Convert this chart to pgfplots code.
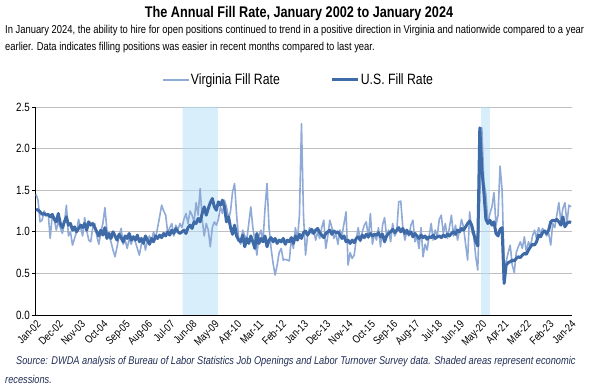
\documentclass[border=0pt]{standalone}
\usepackage{fontspec}
\setmainfont{Liberation Sans}[FakeStretch=0.82]
\usepackage{pgfplots}
\pgfplotsset{compat=1.18}
\usepackage{pgfplotstable}
\definecolor{usblue}{RGB}{62,106,167}
\definecolor{vablue}{RGB}{143,170,214}
\definecolor{shadeblue}{RGB}{179,221,247}
\definecolor{gridgray}{RGB}{191,191,191}
\definecolor{srcnavy}{RGB}{31,45,85}

% monthly values, Jan 2002 ... Jan 2024 (one line per year)
\pgfplotstableread[row sep=\\]{
us va\\
1.27 1.45\\ 1.26 1.38\\ 1.24 1.12\\ 1.21 1.14\\ 1.22 1.25\\ 1.20 1.20\\ 1.21 1.22\\ 1.18 0.92\\ 1.21 1.20\\ 1.15 1.15\\ 1.12 1.02\\ 1.22 1.12\\
1.10 1.05\\ 1.05 0.98\\ 1.12 1.10\\ 1.18 1.32\\ 1.08 0.95\\ 1.10 1.00\\ 1.02 0.84\\ 1.06 0.92\\ 1.00 1.00\\ 1.04 1.15\\ 1.08 1.05\\ 1.05 0.95\\
1.10 1.17\\ 1.02 1.02\\ 1.12 0.90\\ 1.08 0.88\\ 1.10 1.05\\ 1.05 1.10\\ 1.00 0.95\\ 0.95 0.85\\ 1.02 1.00\\ 0.96 1.10\\ 1.05 1.29\\ 0.92 1.02\\
0.98 0.95\\ 0.92 0.88\\ 1.00 0.78\\ 0.95 0.70\\ 0.90 0.82\\ 0.97 0.95\\ 0.93 1.04\\ 0.88 0.85\\ 0.95 0.90\\ 0.92 0.80\\ 0.98 0.92\\ 0.90 0.85\\
0.94 0.95\\ 0.90 0.88\\ 0.96 0.80\\ 0.88 0.72\\ 0.92 0.85\\ 0.86 0.92\\ 0.95 0.78\\ 0.90 0.90\\ 0.85 0.95\\ 0.92 0.88\\ 0.88 1.00\\ 0.95 0.92\\
0.92 1.05\\ 0.96 1.18\\ 0.93 1.32\\ 0.98 1.25\\ 0.95 1.20\\ 1.00 0.98\\ 0.96 1.05\\ 1.02 1.10\\ 0.98 0.95\\ 1.04 1.08\\ 1.00 1.02\\ 0.98 1.10\\
1.00 1.05\\ 1.02 1.15\\ 0.98 1.22\\ 1.05 1.10\\ 1.08 1.25\\ 1.04 1.20\\ 1.12 1.12\\ 1.10 1.35\\ 1.16 1.20\\ 1.12 1.52\\ 1.22 1.15\\ 1.30 0.95\\
1.20 1.10\\ 1.28 1.02\\ 1.35 0.82\\ 1.40 1.05\\ 1.30 1.12\\ 1.26 1.08\\ 1.36 1.15\\ 1.32 1.30\\ 1.38 1.22\\ 1.30 1.38\\ 1.12 1.30\\ 1.18 1.15\\
1.05 1.25\\ 0.97 1.48\\ 1.08 1.58\\ 0.95 1.20\\ 0.90 0.92\\ 0.88 0.85\\ 0.96 1.02\\ 0.82 0.95\\ 0.92 0.90\\ 0.86 1.10\\ 0.95 1.30\\ 0.88 1.05\\
0.80 0.90\\ 0.98 0.72\\ 0.86 0.95\\ 0.92 1.02\\ 0.88 0.88\\ 0.95 1.28\\ 0.82 1.58\\ 0.90 1.05\\ 0.93 0.80\\ 0.88 0.62\\ 0.92 0.48\\ 0.86 0.60\\
0.90 0.75\\ 0.88 0.80\\ 0.92 0.66\\ 0.85 0.67\\ 0.90 0.66\\ 0.88 0.65\\ 0.93 0.92\\ 0.86 0.80\\ 0.95 1.05\\ 0.90 0.90\\ 0.97 1.20\\ 0.92 2.30\\
0.99 1.20\\ 1.01 0.72\\ 0.96 0.95\\ 1.00 1.05\\ 1.03 0.98\\ 0.98 1.02\\ 1.02 0.90\\ 1.04 1.00\\ 0.99 0.92\\ 0.96 1.05\\ 0.93 1.14\\ 0.98 0.80\\
1.00 0.95\\ 1.02 1.14\\ 0.97 1.05\\ 1.01 0.92\\ 0.99 0.98\\ 1.00 0.85\\ 0.96 1.02\\ 0.92 0.96\\ 0.95 1.10\\ 0.88 1.24\\ 0.90 0.60\\ 0.86 0.75\\
0.90 0.68\\ 0.87 0.72\\ 0.92 0.90\\ 0.94 1.05\\ 0.90 0.88\\ 0.96 1.00\\ 0.93 1.08\\ 0.97 1.12\\ 0.94 0.92\\ 0.98 1.22\\ 0.95 0.85\\ 0.97 0.98\\
0.96 0.90\\ 0.99 1.05\\ 0.94 0.82\\ 0.97 1.08\\ 0.88 1.17\\ 0.95 0.95\\ 0.98 1.02\\ 1.00 0.88\\ 1.03 1.10\\ 0.99 0.95\\ 1.02 1.00\\ 1.05 1.36\\
1.00 1.37\\ 1.04 1.05\\ 0.98 0.90\\ 1.02 1.00\\ 0.97 0.95\\ 1.00 1.08\\ 0.94 1.14\\ 0.98 0.88\\ 0.95 0.95\\ 0.92 0.80\\ 0.96 1.05\\ 0.93 0.70\\
0.95 0.85\\ 0.91 0.78\\ 0.94 0.95\\ 0.93 1.10\\ 0.96 0.90\\ 0.92 1.02\\ 0.94 0.95\\ 0.95 1.15\\ 0.93 1.20\\ 0.96 0.98\\ 0.94 1.10\\ 0.97 0.92\\
0.95 1.05\\ 0.98 1.20\\ 1.00 0.95\\ 0.97 1.08\\ 1.02 0.90\\ 1.00 1.02\\ 1.04 1.15\\ 1.02 1.05\\ 1.06 0.85\\ 1.10 0.66\\ 1.13 1.24\\ 1.08 1.00\\
0.98 0.95\\ 0.88 0.70\\ 0.83 0.54\\ 2.25 1.40\\ 1.75 2.25\\ 1.48 1.60\\ 1.15 1.45\\ 1.10 1.10\\ 1.14 1.22\\ 1.08 1.30\\ 1.12 1.47\\ 0.98 1.08\\
0.95 1.20\\ 1.03 1.79\\ 1.05 1.50\\ 0.38 0.62\\ 0.60 0.64\\ 0.63 0.75\\ 0.64 0.84\\ 0.66 0.60\\ 0.65 0.51\\ 0.68 0.75\\ 0.70 0.82\\ 0.69 0.88\\
0.72 0.80\\ 0.74 0.94\\ 0.73 0.75\\ 0.78 0.88\\ 0.82 0.82\\ 0.85 0.95\\ 0.84 1.02\\ 0.88 0.92\\ 0.96 1.05\\ 0.94 0.98\\ 0.99 1.04\\ 1.01 1.00\\
0.98 0.95\\ 1.02 0.98\\ 1.12 0.84\\ 1.14 1.10\\ 1.13 1.05\\ 1.15 1.20\\ 1.12 1.35\\ 1.08 1.12\\ 1.18 1.28\\ 1.06 1.35\\ 1.10 1.10\\ 1.12 1.32\\
1.11 1.30\\
}\fillrates

\begin{document}
\begin{tikzpicture}
\useasboundingbox (0,0) rectangle (597bp,387bp);
\node[font=\bfseries\fontsize{15.5}{17}\selectfont, anchor=center, inner sep=0] at (299bp,373bp) {The Annual Fill Rate, January 2002 to January 2024};
\node[anchor=west, font=\fontsize{11.5}{13}\selectfont, inner sep=0] at (5bp,356bp) {In January 2024, the ability to hire for open positions continued to trend in a positive direction in Virginia and nationwide compared to a year};
\node[anchor=west, font=\fontsize{11.5}{13}\selectfont, inner sep=0] at (5bp,339bp) {earlier. Data indicates filling positions was easier in recent months compared to last year.};
\begin{axis}[
  at={(35bp,72bp)}, anchor=south west,
  width=537bp, height=208bp, scale only axis,
  xmin=-0.5, xmax=264.5, ymin=0, ymax=2.5,
  axis x line*=bottom, axis y line*=left,
  axis line style={black, line width=0.9bp},
  ytick={0,0.5,...,2.5},
  ymajorgrids, grid style={gridgray, line width=0.8bp},
  xtick={0,11,...,264},
  xticklabels={Jan-02,Dec-02,Nov-03,Oct-04,Sep-05,Aug-06,Jul-07,Jun-08,May-09,Apr-10,Mar-11,Feb-12,Jan-13,Dec-13,Nov-14,Oct-15,Sep-16,Aug-17,Jul-18,Jun-19,May-20,Apr-21,Mar-22,Feb-23,Jan-24},
  xticklabel style={rotate=45, anchor=north east, font=\fontsize{11}{12}\selectfont, inner sep=1bp},
  yticklabel style={font=\fontsize{12}{13}\selectfont, inner sep=2bp},
  x tick style={draw=none},
  y tick style={black, line width=0.8bp},
  tick align=outside, major tick length=3bp,
  /pgf/number format/.cd, fixed, fixed zerofill, precision=1, assume math mode=true,
  /pgfplots/.cd,
  legend style={at={(0.49,1.13)}, anchor=center, draw=none, fill=none,
    legend columns=2, font=\fontsize{15}{16}\selectfont,
    nodes={inner sep=1bp},
    /tikz/every even column/.append style={column sep=50bp}},
  legend image code/.code={\draw[#1] (0bp,0bp) -- (26bp,0bp);},
]
\addplot[fill=shadeblue, fill opacity=0.5, draw=none, forget plot] coordinates {(72.4,0) (72.4,2.5) (89.8,2.5) (89.8,0)} \closedcycle;
\addplot[fill=shadeblue, fill opacity=0.5, draw=none, forget plot] coordinates {(219.6,0) (219.6,2.5) (224.0,2.5) (224.0,0)} \closedcycle;
\addplot[vablue, line width=1.6bp, line join=round] table[x expr=\coordindex, y=va] {\fillrates};
\addlegendentry{Virginia Fill Rate}
\addplot[usblue, line width=3bp, line join=round] table[x expr=\coordindex, y=us] {\fillrates};
\addlegendentry{U.S. Fill Rate}
\end{axis}
\node[anchor=west, font=\itshape\fontsize{11.3}{12}\selectfont, text=srcnavy, inner sep=0] at (16bp,25bp) {Source: DWDA analysis of Bureau of Labor Statistics Job Openings and Labor Turnover Survey data. Shaded areas represent economic};
\node[anchor=west, font=\itshape\fontsize{11.3}{12}\selectfont, text=srcnavy, inner sep=0] at (5bp,8bp) {recessions.};
\end{tikzpicture}
\end{document}
